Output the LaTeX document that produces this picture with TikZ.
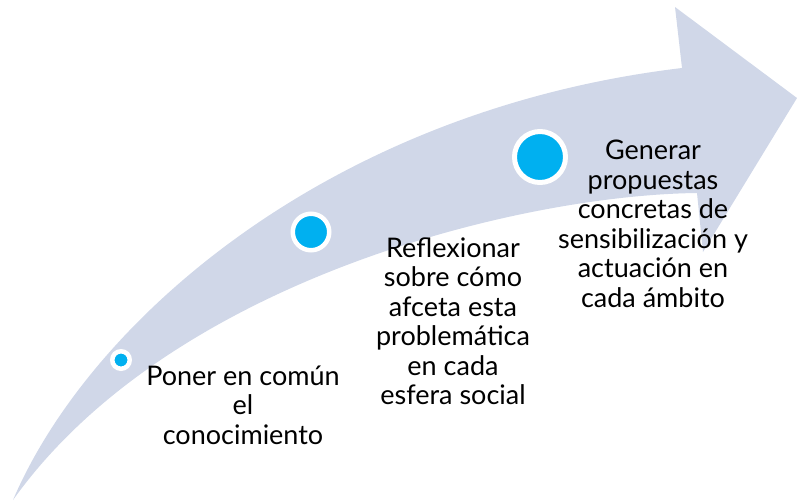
\documentclass[tikz,border=0pt]{standalone}
\usepackage{fontspec}
\setmainfont{Lato}
\usepackage{xcolor}
\usepackage{tikz}
\usetikzlibrary{positioning}

\definecolor{arrowfill}{RGB}{208,215,232}
\definecolor{dotcyan}{RGB}{0,176,240}

\begin{document}
\begin{tikzpicture}[
    x=1pt, y=-1pt,
    dot/.style={circle, fill=dotcyan, draw=white, inner sep=0pt},
    steptext/.style={align=center, text=black, font=\fontsize{27}{29.5}\selectfont}
]
    \useasboundingbox (0,0) rectangle (797,501);

    % curved arrow
    \coordinate (tail) at (13,500);
    \coordinate (notchup) at (682,68);
    \coordinate (headtop) at (675,7);
    \coordinate (tip) at (797,98);
    \coordinate (headbot) at (703,252);
    \coordinate (notchlow) at (697,193);
    \fill[arrowfill] (tail) .. controls (90,320) and (330,110) .. (notchup)
        -- (headtop) -- (tip) -- (headbot) -- (notchlow)
        .. controls (520,195) and (170,280) .. (tail) -- cycle;

    % dots
    \node[dot, minimum size=17.5pt, line width=4.5pt] (dot1) at (121,360) {};
    \node[dot, minimum size=36.5pt, line width=4.5pt] (dot2) at (311,232) {};
    \node[dot, minimum size=51pt, line width=5pt] (dot3) at (540,157) {};

    % labels
    \node[steptext] (step1) at (243,405) {Poner en común\\el\\conocimiento};
    \node[steptext] (step2) at (453,321) {Reflexionar\\sobre cómo\\afceta esta\\problemática\\en cada\\esfera social};
    \node[steptext] (step3) at (653,224) {Generar\\propuestas\\concretas de\\sensibilización y\\actuación en\\cada ámbito};
\end{tikzpicture}
\end{document}
